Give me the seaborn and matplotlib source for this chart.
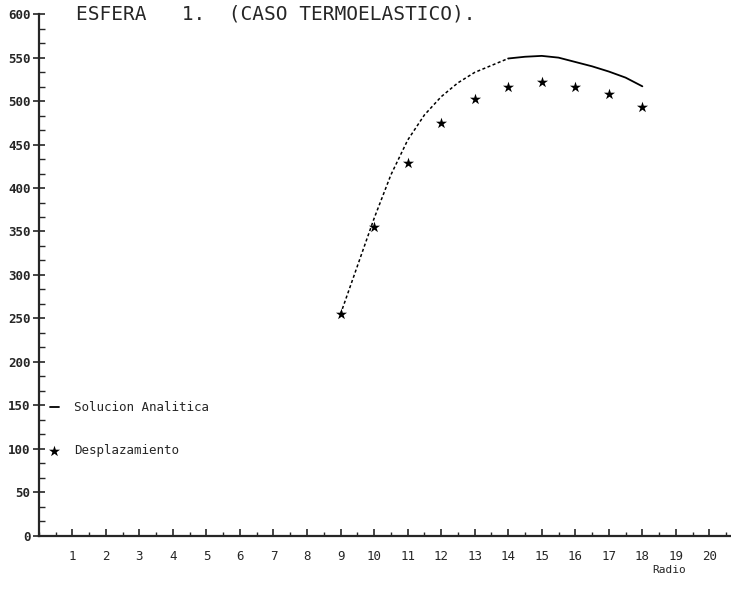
import seaborn as sns
import numpy as np
import pandas as pd
import matplotlib.pyplot as plt
from matplotlib.ticker import MultipleLocator

# ----- datos -----
radio_curva = [9, 9.5, 10, 10.5, 11, 11.5, 12, 12.5, 13, 13.5, 14, 14.5, 15, 15.5, 16, 16.5, 17, 17.5, 18]
solucion = [255, 310, 365, 415, 455, 484, 505, 521, 533, 541, 549, 551, 552, 550, 545, 540, 534, 527, 517]
radio_pts = [9, 10, 11, 12, 13, 14, 15, 16, 17, 18]
desplazamiento = [255, 355, 429, 475, 502, 516, 522, 516, 508, 493]
x_ticks = list(range(1, 21))
y_ticks = list(range(0, 601, 50))
titulo = "ESFERA   1.  (CASO TERMOELASTICO)."

curva = pd.DataFrame({"radio": radio_curva, "valor": solucion})
puntos = pd.DataFrame({"radio": radio_pts, "valor": desplazamiento})

sns.set_style("ticks")
plt.rcParams['font.family'] = ['DejaVu Sans Mono', 'DejaVu Sans']

fig = plt.figure(figsize=(7.31, 5.90), dpi=100)
ax = fig.add_axes([0.053, 0.092, 0.945, 0.884])

# tramo de subida punteado, tramo superior continuo
subida = curva[curva.radio <= 14]
cima = curva[curva.radio >= 14]
sns.lineplot(data=subida, x="radio", y="valor", ax=ax, color="black", lw=1.1,
             linestyle=(0, (2, 1.6)))
sns.lineplot(data=cima, x="radio", y="valor", ax=ax, color="black", lw=1.3,
             label="Solucion Analitica")
sns.scatterplot(data=puntos, x="radio", y="valor", ax=ax, color="black", marker="*",
                s=70, linewidth=0, label="Desplazamiento")

ax.set_xlim(0, 20.6)
ax.set_ylim(0, 600)
ax.set_xticks(x_ticks)
ax.set_yticks(y_ticks)
ax.xaxis.set_minor_locator(MultipleLocator(0.5))
ax.yaxis.set_minor_locator(MultipleLocator(50 / 3))
ax.tick_params(axis="x", which="major", direction="in", length=5, width=1.2, pad=10, labelsize=9)
ax.tick_params(axis="x", which="minor", direction="in", length=3, width=1.0)
ax.tick_params(axis="y", which="major", direction="inout", length=8, width=1.2, pad=2, labelsize=9)
ax.tick_params(axis="y", which="minor", direction="in", length=4, width=1.0)
for lab in ax.get_yticklabels():
    lab.set_fontweight("bold")

sns.despine(ax=ax)
ax.spines["left"].set_linewidth(1.6)
ax.spines["bottom"].set_linewidth(1.6)

ax.set_xlabel("")
ax.set_ylabel("")
ax.text(18.3, -40, "Radio", fontsize=8, ha="left", va="center")
ax.text(1.1, 600, titulo, fontsize=14, ha="left", va="center")

ax.legend(loc="upper left", bbox_to_anchor=(0.0, 0.28), frameon=False, fontsize=9,
          handlelength=0.7, handletextpad=1.2, labelspacing=2.4, markerscale=1.0)

fig.savefig("out.png", dpi=100, facecolor="white")
